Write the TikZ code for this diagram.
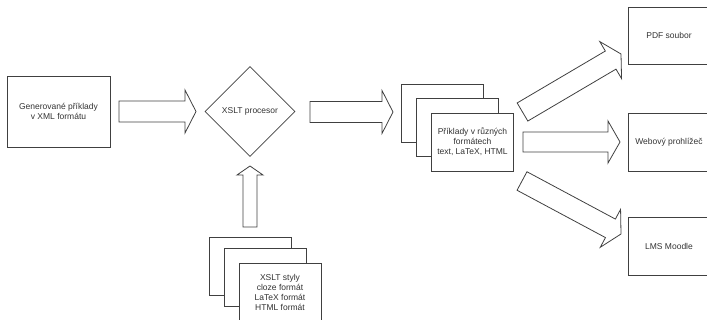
\documentclass[tikz,border=0pt]{standalone}
\usepackage{fontspec}
\setmainfont{Liberation Sans}
\usetikzlibrary{calc,shapes.geometric}

\tikzset{
    line/.style={draw=black!75, line width=0.8pt},
    txt/.style={text=black!80, font=\fontsize{8.5pt}{10pt}\selectfont, align=center},
    box/.style={line, txt, rectangle, minimum width=82pt, minimum height=58pt, inner sep=2pt},
    sheet/.style={box, fill=white},
    bigarrow/.style={line, line join=miter},
}

% block arrow: from, to, half body width, half head width, head length
\newcommand{\blockarrow}[5]{%
    \coordinate (hb) at ($(#2)!#5!(#1)$);
    \draw[bigarrow] ($(#1)!#3!90:(#2)$) -- ($(hb)!#3!90:(#2)$) -- ($(hb)!#4!90:(#2)$) -- (#2)
        -- ($(hb)!#4!-90:(#2)$) -- ($(hb)!#3!-90:(#2)$) -- ($(#1)!#3!-90:(#2)$) -- cycle;
}

\begin{document}
\begin{tikzpicture}[x=1pt, y=-1pt]
    \clip (0,0) rectangle (707,320);

    \node[box, minimum width=103pt, minimum height=71pt] (gen) at (58.5,111.5) {Generované příklady\\v XML formátu};
    \node[line, txt, diamond, aspect=1, minimum width=90pt, minimum height=90pt] (xslt) at (250,111.5) {XSLT procesor};

    % results
    \node[sheet] (res1) at (442,113) {};
    \node[sheet] (res2) at (457,127) {};
    \node[sheet] (res3) at (472.5,142) {Příklady v různých\\formátech\\text, LaTeX, HTML};

    % styles
    \node[sheet] (sty1) at (250,266) {};
    \node[sheet] (sty2) at (265,277) {};
    \node[sheet] (sty3) at (280,292) {XSLT styly\\cloze formát\\LaTeX formát\\HTML formát};

    % outputs
    \node[box, minimum height=57pt] (pdf) at (669,35.5) {PDF soubor};
    \node[box] (web) at (669,142) {Webový prohlížeč};
    \node[box] (lms) at (669,246) {LMS Moodle};

    \coordinate (a1s) at (119,111.5);
    \coordinate (a1e) at (196,111.5);
    \coordinate (a2s) at (310,112);
    \coordinate (a2e) at (393,112);
    \coordinate (a3s) at (250,227);
    \coordinate (a3e) at (250,166);
    \coordinate (a4s) at (522.5,112);
    \coordinate (a4e) at (621,54);
    \coordinate (a5s) at (523,142);
    \coordinate (a5e) at (620,142);
    \coordinate (a6s) at (522,181);
    \coordinate (a6e) at (621,234);

    \blockarrow{a1s}{a1e}{10.5pt}{21.5pt}{11pt}
    \blockarrow{a2s}{a2e}{10.5pt}{21.5pt}{11pt}
    \blockarrow{a3s}{a3e}{7pt}{13pt}{9pt}
    \blockarrow{a4s}{a4e}{10.5pt}{21.5pt}{12pt}
    \blockarrow{a5s}{a5e}{10pt}{21pt}{12pt}
    \blockarrow{a6s}{a6e}{10.5pt}{21.5pt}{12pt}
\end{tikzpicture}
\end{document}
